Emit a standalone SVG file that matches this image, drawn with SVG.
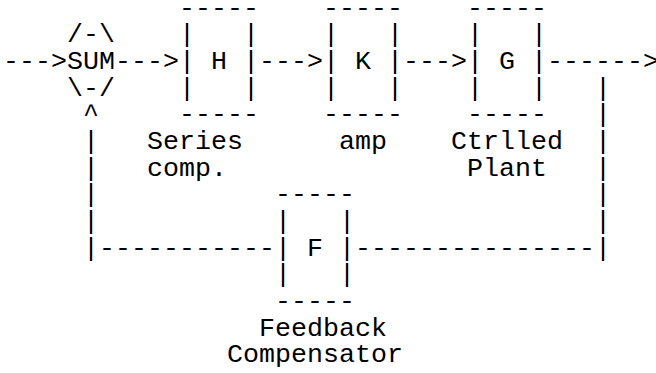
<svg xmlns="http://www.w3.org/2000/svg" width="656" height="373" viewBox="0 0 656 373" xml:space="preserve">
<style>
text { font-family: "Liberation Mono", "DejaVu Sans Mono", monospace; font-size: 26.667px; fill: #000; white-space: pre; }
</style>
<rect width="656" height="373" fill="#fff"/>
<!-- character grid: 16px columns, 26.667px rows, 3px left margin -->
<g transform="translate(3,0)">
<g id="connectors">
<text x="0" y="68.8">---&gt;</text>
<text x="112" y="68.8">---&gt;</text>
<text x="256" y="68.8">---&gt;</text>
<text x="400" y="68.8">---&gt;</text>
<text x="544" y="68.8">------&gt;</text>
<text x="592" y="95.5">|</text>
<text x="592" y="122.2">|</text>
<text x="592" y="148.8">|</text>
<text x="592" y="175.5">|</text>
<text x="592" y="202.2">|</text>
<text x="592" y="228.8">|</text>
<text x="80" y="122.2">^</text>
<text x="80" y="148.8">|</text>
<text x="80" y="175.5">|</text>
<text x="80" y="202.2">|</text>
<text x="80" y="228.8">|</text>
<text x="80" y="255.5">|-----------</text>
<text x="352" y="255.5">---------------|</text>
</g>
<g id="sum">
<text x="64" y="42.2">/-\</text>
<text x="64" y="68.8">SUM</text>
<text x="64" y="95.5">\-/</text>
</g>
<g id="box-h">
<text x="176" y="15.5">-----</text>
<text x="176" y="42.2">|   |</text>
<text x="176" y="68.8">| H |</text>
<text x="176" y="95.5">|   |</text>
<text x="176" y="122.2">-----</text>
<text x="144" y="148.8">Series</text>
<text x="144" y="175.5">comp.</text>
</g>
<g id="box-k">
<text x="320" y="15.5">-----</text>
<text x="320" y="42.2">|   |</text>
<text x="320" y="68.8">| K |</text>
<text x="320" y="95.5">|   |</text>
<text x="320" y="122.2">-----</text>
<text x="336" y="148.8">amp</text>
</g>
<g id="box-g">
<text x="464" y="15.5">-----</text>
<text x="464" y="42.2">|   |</text>
<text x="464" y="68.8">| G |</text>
<text x="464" y="95.5">|   |</text>
<text x="464" y="122.2">-----</text>
<text x="448" y="148.8">Ctrlled</text>
<text x="464" y="175.5">Plant</text>
</g>
<g id="box-f">
<text x="272" y="202.2">-----</text>
<text x="272" y="228.8">|   |</text>
<text x="272" y="255.5">| F |</text>
<text x="272" y="282.2">|   |</text>
<text x="272" y="308.8">-----</text>
<text x="256" y="335.5">Feedback</text>
<text x="224" y="362.2">Compensator</text>
</g>
</g>
</svg>
